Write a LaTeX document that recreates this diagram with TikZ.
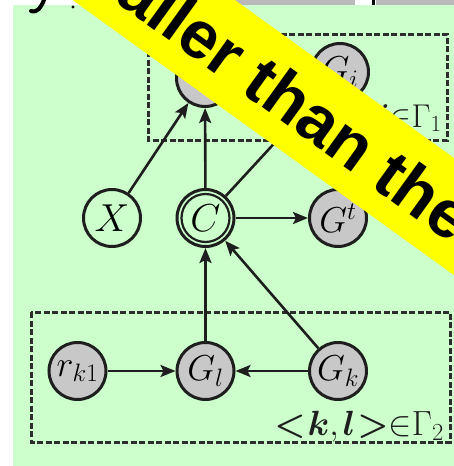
\RequirePackage{fix-cm}
\documentclass[tikz,border=0pt]{standalone}
\usepackage{amsmath,bm}
\usepackage{fontspec}
\newfontfamily\bannerfont{Liberation Sans}
\usetikzlibrary{arrows.meta}
\definecolor{bggreen}{RGB}{204,255,204}
\definecolor{inkc}{RGB}{30,30,30}
\definecolor{platec}{RGB}{45,45,45}
\definecolor{nodegray}{RGB}{200,200,200}
\definecolor{stripgray}{RGB}{185,185,185}
\definecolor{banneryellow}{RGB}{255,255,0}
\tikzset{
  var/.style={circle, draw=inkc, line width=3pt, minimum size=57pt, inner sep=0pt,
              font=\fontsize{39}{39}\selectfont},
  obs/.style={var, fill=nodegray, font=\fontsize{36}{36}\selectfont},
  edge/.style={draw=inkc, line width=2.6pt, -{Stealth[length=15pt,width=12pt,inset=3pt]}},
  plate/.style={draw=platec, line width=3pt, dash pattern=on 6pt off 2.5pt},
  platelabel/.style={anchor=base east, text=inkc, inner sep=0pt},
  banner/.style={rotate=-35.8, fill=banneryellow, minimum height=95pt, minimum width=1000pt,
                 inner sep=0pt, text=black, font=\bannerfont\bfseries\fontsize{67}{67}\selectfont}
}
\begin{document}
\begin{tikzpicture}[x=1pt,y=-1pt]
\useasboundingbox (0,0) rectangle (454,466);
\clip (0,0) rectangle (454,466);
\fill[white] (0,0) rectangle (454,466);
\fill[bggreen] (13,5) rectangle (454,466);
% fragments of the slide above
\fill[stripgray] (232,0) rectangle (355,5);
\fill[stripgray] (376,0) rectangle (454,5);
\fill[black] (372,0) rectangle (375,5);
\draw[black, line width=4pt, line cap=round] (31,11) .. controls (38,13) and (41,7) .. (44,0);
\fill[black] (73,7) circle (1.6);
% plates
\draw[plate] (148,34) rectangle (447,140);
\draw[plate] (31,312) rectangle (450,442);
\node[platelabel, font=\fontsize{33}{33}\selectfont] (lab1) at (442,127) {$\bm{i}{\in}\Gamma_{1}$};
\node[platelabel, font=\fontsize{35}{35}\selectfont] (lab2) at (444,435) {${\bm{<}}\mkern1mu\bm{k}{,}\mkern2mu\bm{l}\mkern1mu{\bm{>}}{\in}\Gamma_{2}$};
% nodes
\node[obs] (top) at (205,78) {$G$};
\node[obs] (gi) at (340,72) {$G_i$};
\node[var] (x) at (112,218) {$X$};
\node[var] (c) at (205.5,218) {$C$};
\draw[inkc, line width=2.2pt] (c.center) circle (24pt);
\node[obs] (gt) at (338,218) {$G^t$};
\node[obs] (r) at (77.5,371) {$r_{k1}$};
\node[obs] (gl) at (205.5,371) {$G_l$};
\node[obs] (gk) at (338,371) {$G_k$};
% edges
\draw[edge] (x) -- (top);
\draw[edge] (c) -- (top);
\draw[edge] (c) -- (gi);
\draw[edge] (c) -- (gt);
\draw[edge] (gl) -- (c);
\draw[edge] (gk) -- (c);
\draw[edge] (r) -- (gl);
\draw[edge] (gk) -- (gl);
% banner
\node[banner] (bannertext) at (257,74.5) {smaller than the};
\end{tikzpicture}
\end{document}
